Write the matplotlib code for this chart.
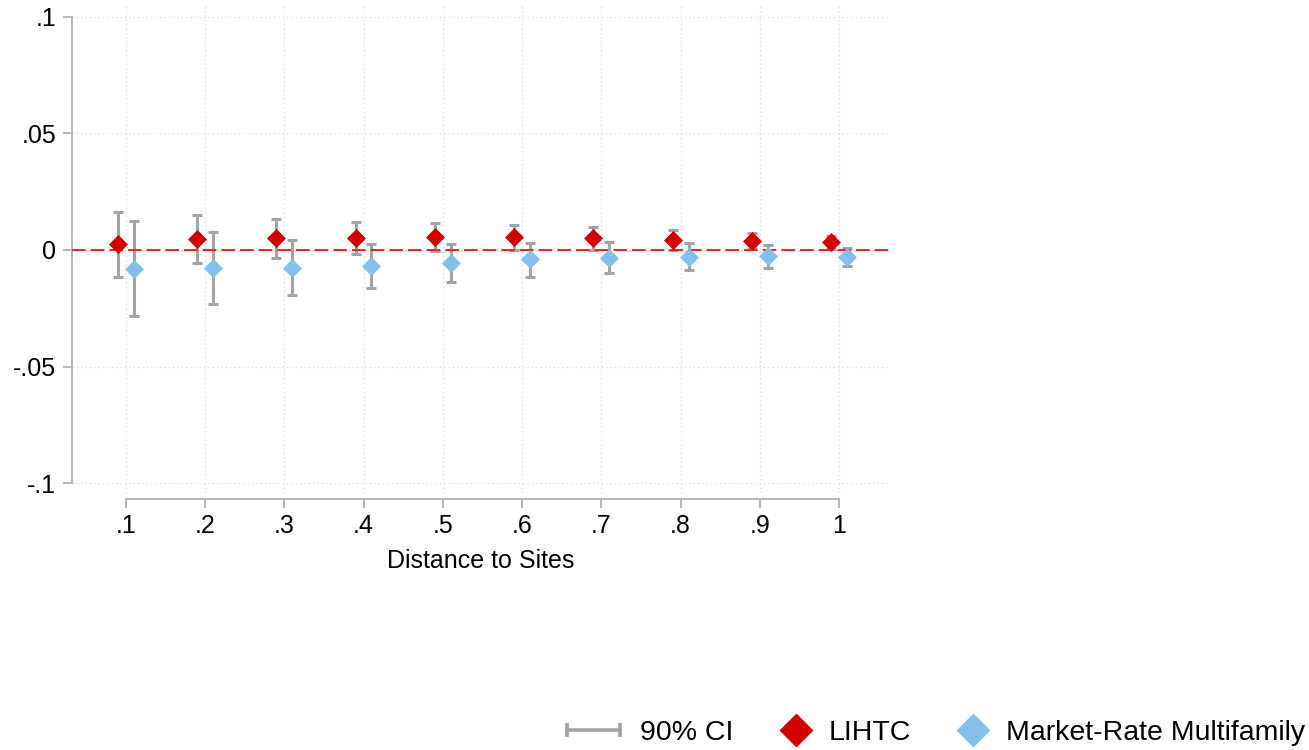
import numpy as np
import matplotlib
matplotlib.use("Agg")
import matplotlib.pyplot as plt
from matplotlib.lines import Line2D
from matplotlib.legend_handler import HandlerLine2D

plt.rcParams['font.family'] = ['Liberation Sans', 'DejaVu Sans']

# distance bins (miles)
distance = np.array([0.1, 0.2, 0.3, 0.4, 0.5, 0.6, 0.7, 0.8, 0.9, 1.0])

# LIHTC coefficients and 90% CI
lihtc_coef = np.array([0.0026, 0.0046, 0.0050, 0.0053, 0.0056, 0.0054, 0.0050, 0.0043, 0.0040, 0.0032])
lihtc_lo = np.array([-0.0117, -0.0057, -0.0034, -0.0017, -0.0006, 0.0000, 0.0001, 0.0000, 0.0004, 0.0002])
lihtc_hi = np.array([0.0164, 0.0150, 0.0131, 0.0121, 0.0116, 0.0109, 0.0099, 0.0084, 0.0074, 0.0061])

# market-rate multifamily coefficients and 90% CI
mkt_coef = np.array([-0.0080, -0.0077, -0.0076, -0.0070, -0.0054, -0.0041, -0.0034, -0.0031, -0.0027, -0.0029])
mkt_lo = np.array([-0.0283, -0.0230, -0.0193, -0.0164, -0.0136, -0.0114, -0.0099, -0.0087, -0.0077, -0.0067])
mkt_hi = np.array([0.0124, 0.0076, 0.0041, 0.0026, 0.0027, 0.0031, 0.0033, 0.0029, 0.0023, 0.0009])

red = '#d40000'
blue = '#85c0ea'
ci_grey = '#a3a3a3'
axis_grey = '#b4b4b4'


class HandlerMarkerRight(HandlerLine2D):
    # single marker sits near the text instead of in the middle of the handle
    def get_xdata(self, legend, xdescent, ydescent, width, height, fontsize):
        xm = width - 0.45 * fontsize
        return np.array([xm - 1.0, xm + 1.0]), np.array([xm])


W, H = 1309, 750
fig = plt.figure(figsize=(W / 100, H / 100), dpi=100)
ax = fig.add_axes([72 / W, 1 - 493 / H, (890 - 72) / W, (493 - 5) / H])

shift = 0.01
for xs, c, lo, hi, col in [(distance - shift, lihtc_coef, lihtc_lo, lihtc_hi, red),
                           (distance + shift, mkt_coef, mkt_lo, mkt_hi, blue)]:
    ax.errorbar(xs, c, yerr=[c - lo, hi - c], fmt='none', ecolor=ci_grey,
                elinewidth=2.2, capsize=3.3, capthick=2.2, zorder=2)
    ax.plot(xs, c, 'D', color=col, markersize=9, markeredgewidth=0.5,
            markeredgecolor=col, zorder=4)

ax.axhline(0, color='#ff1a1a', lw=1.4, linestyle=(0, (7, 2.6)), zorder=3)

ax.set_xlim(0.0323, 1.064)
ax.set_ylim(-0.1042, 0.105)
ax.set_xticks(distance)
ax.set_xticklabels(['.1', '.2', '.3', '.4', '.5', '.6', '.7', '.8', '.9', '1'])
ax.set_yticks([-0.1, -0.05, 0, 0.05, 0.1])
ax.set_yticklabels(['-.1', '-.05', '0', '.05', '.1'])
ax.grid(True, color='#d8d8d8', linestyle=(0, (1, 2.5)), lw=0.9, zorder=0)
ax.set_axisbelow(True)

for s in ['top', 'right']:
    ax.spines[s].set_visible(False)
ax.spines['left'].set_bounds(-0.1, 0.1)
ax.spines['bottom'].set_bounds(0.1, 1.0)
ax.spines['bottom'].set_position(('outward', 4))
for s in ['left', 'bottom']:
    ax.spines[s].set_color(axis_grey)
    ax.spines[s].set_linewidth(1.4)
ax.tick_params(axis='both', color=axis_grey, width=1.4, length=6.2,
               labelsize=18, pad=5)
ax.set_xlabel('Distance to Sites', fontsize=18, labelpad=8)

ci_handle = Line2D([], [], color=ci_grey, lw=2.6, marker='|', markersize=10,
                   markeredgewidth=2.6)
lihtc_handle = Line2D([], [], ls='none', marker='D', color=red, markersize=16)
mkt_handle = Line2D([], [], ls='none', marker='D', color=blue, markersize=16)
fig.legend([ci_handle, lihtc_handle, mkt_handle],
           ['90% CI', 'LIHTC', 'Market-Rate Multifamily'],
           loc='center right', bbox_to_anchor=(1305 / W, 1 - 733 / H),
           ncol=3, frameon=False, fontsize=20.5, handlelength=1.86,
           columnspacing=0.78, handletextpad=0.7, borderaxespad=0,
           borderpad=0,
           handler_map={ci_handle: HandlerLine2D(numpoints=2, marker_pad=0),
                        lihtc_handle: HandlerMarkerRight(),
                        mkt_handle: HandlerMarkerRight()})

fig.savefig('out.png', dpi=100, facecolor='white')
